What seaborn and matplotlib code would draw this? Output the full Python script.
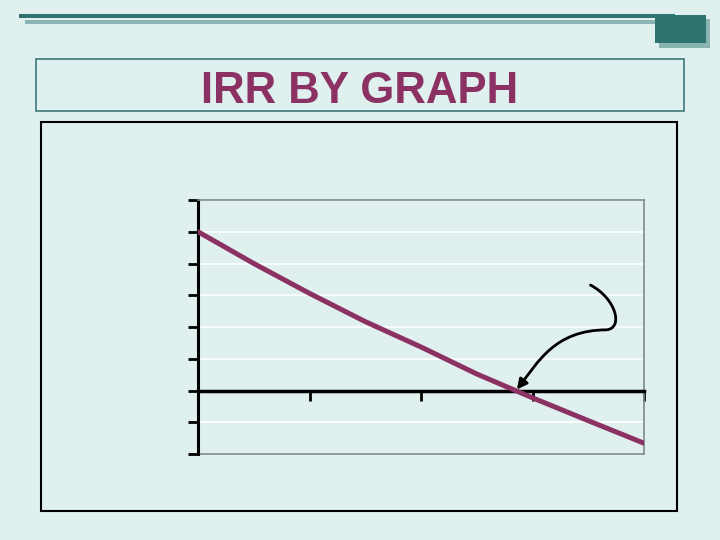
import matplotlib
matplotlib.use('Agg')
import matplotlib.pyplot as plt
import seaborn as sns
from matplotlib.patches import Rectangle, FancyArrowPatch
from matplotlib.path import Path

# discount rate (%) vs NPV
rates = [0, 5, 10, 15, 20, 25, 30, 35, 40]
npv = [5.0, 4.0, 3.06, 2.17, 1.37, 0.52, -0.23, -0.95, -1.66]
x_ticks = [0, 10, 20, 30, 40]
y_ticks = [-2, -1, 0, 1, 2, 3, 4, 5, 6]
title = 'IRR BY GRAPH'

bg = '#dff0ee'
teal = '#2e736f'
teal_light = '#8ab4b1'
maroon = '#8b3163'

sns.set_theme(style='white')
plt.rcParams['font.family'] = ['Liberation Sans', 'DejaVu Sans']

W, H = 720, 540
fig = plt.figure(figsize=(7.2, 5.4), dpi=100, facecolor=bg)


def box(x0, y0, x1, y1, **kw):
    # pixel box (top-left origin) -> figure fraction rectangle
    r = Rectangle((x0 / W, 1 - y1 / H), (x1 - x0) / W, (y1 - y0) / H,
                  transform=fig.transFigure, **kw)
    fig.patches.append(r)


# header decoration
box(19, 14, 675, 17.5, facecolor=teal, edgecolor='none')
box(25, 20, 655, 23.5, facecolor=teal_light, edgecolor='none')
box(659, 19, 710, 48, facecolor=teal_light, edgecolor='none')
box(655, 15, 706, 43, facecolor=teal, edgecolor='none')

# title box
box(36, 59, 684, 111, facecolor='none', edgecolor='#3e7a78', lw=1.2)
fig.text(360 / W, 1 - 103 / H, title, ha='center', va='baseline',
         fontsize=31.5, fontweight='bold', color=maroon)

# chart frame
box(41, 122, 677, 511, facecolor='none', edgecolor='black', lw=1.5)

ax = fig.add_axes([198 / W, 1 - 454 / H, (644 - 198) / W, (454 - 200) / H])
ax.set_facecolor(bg)

sns.lineplot(x=rates, y=npv, ax=ax, color=maroon, lw=3.6, zorder=3)

ax.set_xlim(0, 40)
ax.set_ylim(-2, 6)
ax.set_xticks(x_ticks)
ax.set_yticks(y_ticks)
ax.set_xticklabels([])
ax.set_yticklabels([])
ax.set_xlabel('')
ax.set_ylabel('')
ax.grid(axis='y', color='white', lw=1.2)
ax.grid(axis='x', visible=False)
ax.set_axisbelow(True)

for s in ['top', 'right']:
    ax.spines[s].set_color('#7f8c8c')
    ax.spines[s].set_linewidth(1.2)
ax.spines['left'].set_color('black')
ax.spines['left'].set_linewidth(2.2)
ax.spines['bottom'].set_position(('data', 0))
ax.spines['bottom'].set_color('black')
ax.spines['bottom'].set_linewidth(2.5)
ax.plot([0, 1], [0, 0], transform=ax.transAxes, color='#7f8c8c', lw=1.2,
        clip_on=False, zorder=1)
ax.tick_params(axis='both', direction='out', length=7, width=2, color='black',
               bottom=True, left=True)

# curved arrow pointing at the IRR
verts = [(35.2, 3.32), (37.5, 2.9), (38.2, 1.95), (36.6, 1.91),
         (32.0, 1.9), (30.5, 0.9), (28.6, 0.03)]
codes = [Path.MOVETO] + [Path.CURVE4] * 6
arrow = FancyArrowPatch(path=Path(verts, codes), arrowstyle='-|>,head_length=6,head_width=3',
                        color='black', lw=2, transform=ax.transData, zorder=4)
ax.add_patch(arrow)

fig.savefig('out.png', dpi=100, facecolor=bg)
